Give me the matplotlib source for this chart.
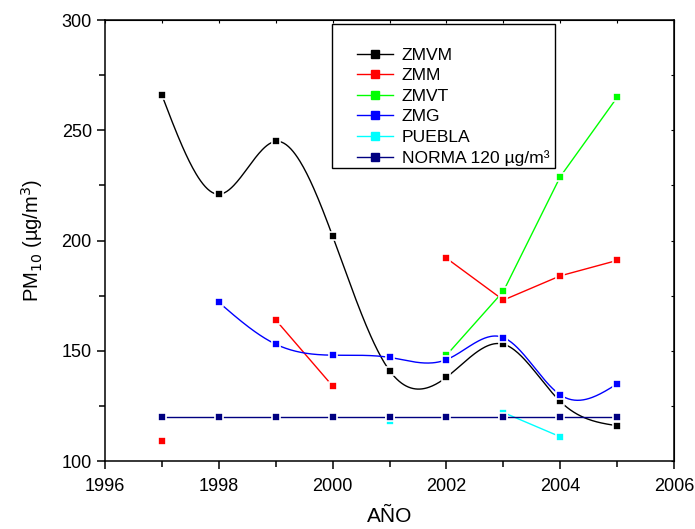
import numpy as np
import matplotlib
matplotlib.use('Agg')
import matplotlib.pyplot as plt
from matplotlib.patches import Rectangle

plt.rcParams['font.family'] = ['Liberation Sans', 'DejaVu Sans']

years = [1997, 1998, 1999, 2000, 2001, 2002, 2003, 2004, 2005]
nan = np.nan

zmvm = [266, 221, 245, 202, 141, 138, 153, 127, 116]
zmm = [109, nan, 164, 134, nan, 192, 173, 184, 191]
zmvt = [nan, nan, nan, nan, nan, 148, 177, 229, 265]
zmg = [nan, 172, 153, 148, 147, 146, 156, 130, 135]
puebla = [nan, nan, nan, nan, 118, nan, 122, 111, nan]
norma = [120, 120, 120, 120, 120, 120, 120, 120, 120]


def natural_spline(x, y, n=400):
    # natural cubic spline through the points, numpy only
    x = np.asarray(x, float)
    y = np.asarray(y, float)
    k = len(x)
    h = np.diff(x)
    A = np.zeros((k, k))
    b = np.zeros(k)
    A[0, 0] = A[-1, -1] = 1
    for i in range(1, k - 1):
        A[i, i - 1] = h[i - 1]
        A[i, i] = 2 * (h[i - 1] + h[i])
        A[i, i + 1] = h[i]
        b[i] = 3 * ((y[i + 1] - y[i]) / h[i] - (y[i] - y[i - 1]) / h[i - 1])
    c = np.linalg.solve(A, b)
    xs = np.linspace(x[0], x[-1], n)
    idx = np.clip(np.searchsorted(x, xs) - 1, 0, k - 2)
    dx = xs - x[idx]
    bb = (y[idx + 1] - y[idx]) / h[idx] - h[idx] * (2 * c[idx] + c[idx + 1]) / 3
    dd = (c[idx + 1] - c[idx]) / (3 * h[idx])
    ys = y[idx] + bb * dx + c[idx] * dx ** 2 + dd * dx ** 3
    return xs, ys


fig = plt.figure(figsize=(6.95, 5.29), dpi=100)
ax = fig.add_axes([0.151, 0.1285, 0.819, 0.8335])

mk = dict(marker='s', markersize=5.5, markeredgecolor='white', markeredgewidth=1.2, linestyle='none')
lw = 1.0

series = [
    ('ZMVM', zmvm, 'black', True),
    ('ZMM', zmm, '#ff0000', False),
    ('ZMVT', zmvt, '#00ff00', False),
    ('ZMG', zmg, '#0000ff', True),
    ('PUEBLA', puebla, '#00ffff', False),
    ('NORMA 120 µg/m³', norma, '#000080', False),
]

handles = []
for name, vals, col, smooth in series:
    x = np.array(years, float)
    y = np.array(vals, float)
    ok = ~np.isnan(y)
    if smooth:
        xs, ys = natural_spline(x[ok], y[ok])
        ax.plot(xs, ys, color=col, lw=lw, zorder=2)
    else:
        ax.plot(x, y, color=col, lw=lw, zorder=2)
    ax.plot(x[ok], y[ok], color=col, markerfacecolor=col, zorder=3, **mk)
    h, = ax.plot([], [], color=col, lw=lw, marker='s', markersize=5.5,
                 markerfacecolor=col, markeredgecolor=col)
    handles.append(h)

ax.set_xlim(1996, 2006)
ax.set_ylim(100, 300)
ax.set_xticks(range(1996, 2007, 2))
ax.set_xticks(range(1997, 2006, 2), minor=True)
ax.set_yticks(range(100, 301, 50))
ax.set_yticks(range(125, 300, 50), minor=True)

for s in ax.spines.values():
    s.set_linewidth(1.1)
ax.tick_params(which='both', direction='out', width=1.1, labelsize=13, top=False, right=False)
ax.tick_params(which='major', length=6)
ax.tick_params(which='minor', length=4)
ax.tick_params(axis='x', which='major', pad=6)

top = ax.secondary_xaxis('top')
top.set_xticks(range(1996, 2007, 2))
top.set_xticks(range(1997, 2006, 2), minor=True)
top.tick_params(which='both', direction='in', length=2.5, width=0.8, labeltop=False)
right = ax.secondary_yaxis('right')
right.set_yticks(range(100, 301, 50))
right.set_yticks(range(125, 300, 50), minor=True)
right.tick_params(which='both', direction='in', length=2.5, width=0.8, labelright=False)

ax.set_xlabel('AÑO', fontsize=15, labelpad=9)
ax.set_ylabel('PM$_{10}$ (µg/m$^{3}$)', fontsize=14.5, labelpad=12)

# legend frame drawn separately so the entries can sit low in the box
ax.add_patch(Rectangle((0.399, 0.664), 0.392, 0.327, transform=ax.transAxes,
                       facecolor='white', edgecolor='black', lw=1.0, zorder=4))
ax.legend(handles, [s[0] for s in series], loc='upper left',
          bbox_to_anchor=(0.443, 0.938), frameon=False, fontsize=12.6,
          borderpad=0, borderaxespad=0, handlelength=2.05, handletextpad=0.5,
          labelspacing=0.3).set_zorder(5)

fig.savefig('out.png', dpi=100)
